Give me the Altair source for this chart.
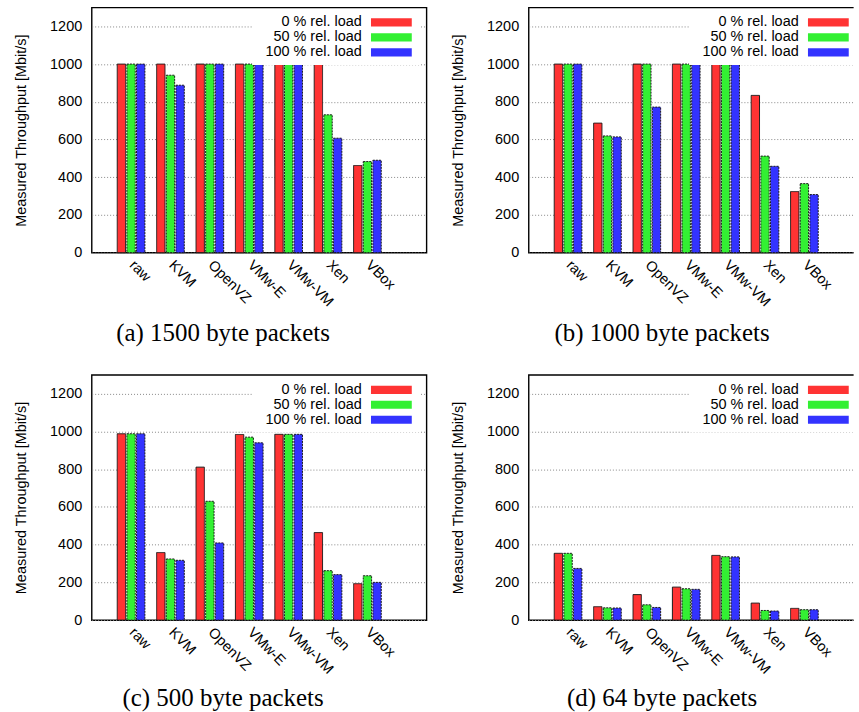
import json
import altair as alt
import pandas as pd

categories = ["raw", "KVM", "OpenVZ", "VMw-E", "VMw-VM", "Xen", "VBox"]
loads = ["0 % rel. load", "50 % rel. load", "100 % rel. load"]
captions = ["(a) 1500 byte packets", "(b) 1000 byte packets",
            "(c) 500 byte packets", "(d) 64 byte packets"]
y_ticks = [0, 200, 400, 600, 800, 1000, 1200]

p1500_load0 = [1000, 1000, 1000, 1000, 1000, 1000, 462]
p1500_load50 = [1000, 941, 1000, 1000, 1000, 731, 483]
p1500_load100 = [1000, 888, 1000, 1000, 1000, 607, 490]

p1000_load0 = [1000, 687, 1000, 1000, 1000, 834, 324]
p1000_load50 = [1000, 619, 1000, 1000, 1000, 512, 366]
p1000_load100 = [1000, 614, 772, 1000, 1000, 458, 308]

p500_load0 = [988, 358, 811, 984, 985, 464, 193]
p500_load50 = [988, 324, 630, 970, 985, 262, 235]
p500_load100 = [988, 317, 409, 940, 985, 241, 200]

p64_load0 = [354, 71, 135, 175, 343, 90, 62]
p64_load50 = [354, 65, 81, 166, 336, 51, 55]
p64_load100 = [274, 64, 67, 163, 335, 48, 55]

colors = ["#ff3333", "#33f033", "#3333ff"]
dashes = [[1, 0], [2, 1], [2, 1]]

label_expr = json.dumps(categories) + "[datum.value]"

FULL_W = 336
H = 246


def panel(series, caption, width=FULL_W, cut_right=False, cap_dy=0):
    rows = []
    for li, (load, vals) in enumerate(zip(loads, series)):
        for ci, (cat, v) in enumerate(zip(categories, vals)):
            rows.append({"category": cat, "ci": ci, "li": li,
                         "load": load, "throughput": v})
    df = pd.DataFrame(rows)
    x_max = -1 + 8.5 * width / FULL_W
    leg = alt.Legend(
        title=None, orient="none", legendX=161, legendY=1.7,
        symbolType="M-5,-1H5V1H-5Z", symbolSize=67, symbolOffset=126.5,
        symbolStrokeColor="#1a1a1a", symbolStrokeWidth=1, symbolOpacity=1,
        labelAlign="right", labelOffset={"expr": "-37"}, labelFont="Liberation Sans",
        labelFontSize=14.5, labelColor="black", labelLimit=300,
        fillColor="white", padding=6, rowPadding=0, offset=0,
    )
    view = alt.ViewBackground(stroke="black", strokeWidth=1.4)
    if cut_right:
        view = alt.ViewBackground(stroke="black", strokeWidth=1.4,
                                  strokeDash=[width, H, width + H, 20])
    return alt.Chart(df).transform_calculate(
        xc="datum.ci + (datum.li - 1) * 0.245",
        xa="datum.xc - 0.106",
        xb="datum.xc + 0.106",
    ).mark_bar(stroke="#1a1a1a", strokeWidth=1).encode(
        x=alt.X("xa:Q", scale=alt.Scale(domain=[-1, x_max], nice=False, zero=False),
                axis=alt.Axis(values=list(range(len(categories))), labelExpr=label_expr,
                              title=None, labelAngle=45, labelAlign="left",
                              labelBaseline="middle", labelPadding=10, ticks=False,
                              domain=False, grid=False, labelOverlap=False,
                              labelFlush=False, labelBound=False)),
        x2="xb:Q",
        y=alt.Y("throughput:Q", stack=None, scale=alt.Scale(domain=[0, 1300], nice=False),
                axis=alt.Axis(values=y_ticks, format="d", title="Measured Throughput [Mbit/s]",
                              ticks=False, domain=False, grid=True, labelPadding=10,
                              titlePadding=21, gridColor="#888888", gridDash=[1, 2],
                              gridWidth=1)),
        y2=alt.datum(0),
        color=alt.Color("load:N", scale=alt.Scale(domain=loads, range=colors), legend=leg),
        strokeDash=alt.StrokeDash("load:N", scale=alt.Scale(domain=loads, range=dashes),
                                  legend=leg),
    ).properties(
        width=width, height=H, view=view,
        title=alt.TitleParams(caption, orient="bottom", anchor="middle", frame="bounds",
                              font="Liberation Serif", fontSize=25, fontWeight="normal",
                              offset=12 + cap_dy, color="black",
                              dx=3 + (FULL_W - width) / 2),
    )


a = panel([p1500_load0, p1500_load50, p1500_load100], captions[0])
b = panel([p1000_load0, p1000_load50, p1000_load100], captions[1], width=326, cut_right=True)
c = panel([p500_load0, p500_load50, p500_load100], captions[2], cap_dy=-2)
d = panel([p64_load0, p64_load50, p64_load100], captions[3], width=326, cut_right=True,
          cap_dy=-2)

chart = alt.concat(a, b, c, d, columns=2, spacing={"row": 27.7, "column": 22.5}).resolve_scale(
    color="independent", strokeDash="independent"
).resolve_legend(
    color="independent", strokeDash="independent"
).configure_axis(
    labelFont="Liberation Sans", titleFont="Liberation Sans", labelFontSize=14.5,
    titleFontSize=14.5, labelColor="black", titleColor="black", titleFontWeight="normal",
).properties(
    padding={"left": 13, "top": 5.3, "right": 0, "bottom": 0}
)

chart.save("out.html", embed_options={"renderer": "svg", "actions": False})
